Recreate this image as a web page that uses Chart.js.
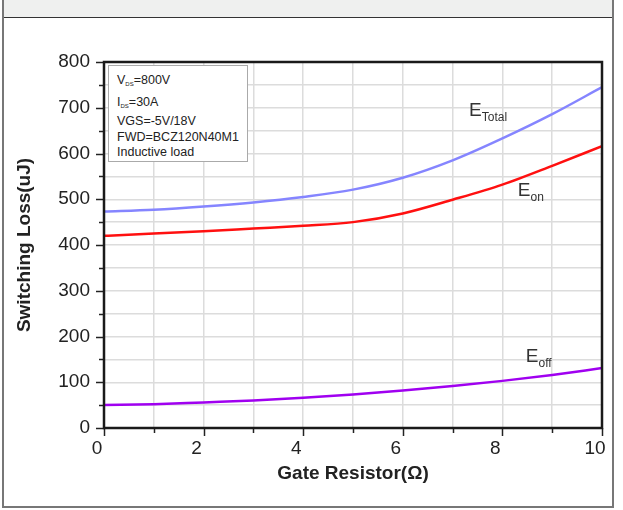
<!doctype html>
<html>
<head>
<meta charset="utf-8" />
<script src="https://cdn.jsdelivr.net/npm/chart.js"></script>
<style>
  html, body { margin: 0; padding: 0; background: #fff; }
  body { width: 623px; height: 510px; position: relative; overflow: hidden; font-family: "Liberation Sans", Arial, sans-serif; }
  .frame { position: absolute; left: 2px; top: 0; width: 608px; height: 506px; border-left: 2px solid #777; border-right: 2px solid #777; border-bottom: 2px solid #777; }
  .band { position: absolute; left: 0; top: 0; width: 100%; height: 17px; background: #eff0ef; border-bottom: 1px solid #333; }
  #wrap { position: absolute; left: 0; top: 0; width: 623px; height: 510px; }
  .note { position: absolute; left: 108px; top: 65px; width: 140px; height: 97px; border: 1px solid #aaa; background: #fff;
          font-size: 12.5px; color: #222; padding: 3px 0 0 8px; box-sizing: border-box; white-space: nowrap; }
  .note div { line-height: 15px; height: 15px; }
  .note .l1, .note .l2 { line-height: 22px; height: 22px; }
  .note .l3 { line-height: 17px; height: 17px; }
  .note sub { font-size: 6px; vertical-align: -2px; line-height: 0; }
</style>
</head>
<body>
<div class="frame"><div class="band"></div></div>
<div id="wrap"><canvas id="chart" width="623" height="510"></canvas></div>
<div class="note">
  <div class="l1">V<sub>DS</sub>=800V</div>
  <div class="l2">I<sub>DS</sub>=30A</div>
  <div class="l3">VGS=-5V/18V</div>
  <div>FWD=BCZ120N40M1</div>
  <div>Inductive load</div>
</div>
<script>
const gateResistor = [0, 1, 2, 3, 4, 5, 6, 7, 8, 9, 10];
const eTotal = [473, 477, 484, 493, 505, 521, 547, 585, 633, 686, 745];
const eOn = [420, 425, 430, 436, 442, 450, 469, 499, 532, 573, 616];
const eOff = [50, 52, 56, 60, 66, 73, 82, 92, 103, 116, 131];
const yMin = 0, yMax = 800, yStep = 50;
const xMin = 0, xMax = 10, xStep = 1;
const curveLabels = [
  { main: 'E', sub: 'Total', x: 7.33, y: 697 },
  { main: 'E', sub: 'on', x: 8.31, y: 522 },
  { main: 'E', sub: 'off', x: 8.47, y: 160 },
];

const font = '"Liberation Sans", Arial, sans-serif';

function line(label, data, color) {
  return {
    label,
    data: gateResistor.map((x, i) => ({ x, y: data[i] })),
    borderColor: color,
    backgroundColor: color,
    borderWidth: 2.5,
    pointRadius: 0,
    cubicInterpolationMode: 'monotone',
    fill: false,
  };
}

const framePlugin = {
  id: 'frame',
  afterDraw(chart) {
    const { ctx, chartArea: a, scales: { x, y } } = chart;
    ctx.save();
    ctx.strokeStyle = '#222';
    ctx.lineWidth = 1.5;
    // ticks on left axis
    for (let v = yMin; v <= yMax; v += yStep) {
      const py = Math.round(y.getPixelForValue(v)) + 0.5;
      const len = v % 100 === 0 ? 8 : 5;
      ctx.beginPath(); ctx.moveTo(a.left - len, py); ctx.lineTo(a.left, py); ctx.stroke();
    }
    // ticks on bottom axis
    for (let v = xMin; v <= xMax; v += xStep) {
      const px = Math.round(x.getPixelForValue(v)) + 0.5;
      const len = v % 2 === 0 ? 8 : 5;
      ctx.beginPath(); ctx.moveTo(px, a.bottom); ctx.lineTo(px, a.bottom + len); ctx.stroke();
    }
    // frame
    ctx.lineWidth = 2.5;
    ctx.strokeStyle = '#1a1a1a';
    ctx.strokeRect(a.left, a.top, a.right - a.left, a.bottom - a.top);
    // curve labels
    ctx.fillStyle = '#333';
    ctx.textBaseline = 'alphabetic';
    for (const l of curveLabels) {
      const px = x.getPixelForValue(l.x);
      const py = y.getPixelForValue(l.y);
      ctx.font = `19px ${font}`;
      ctx.fillText(l.main, px, py + 7);
      const w = ctx.measureText(l.main).width;
      ctx.font = `12px ${font}`;
      ctx.fillText(l.sub, px + w, py + 12);
    }
    ctx.restore();
  },
};

new Chart(document.getElementById('chart'), {
  type: 'line',
  data: { datasets: [line('E_Total', eTotal, '#8585ff'), line('E_on', eOn, '#ff1010'), line('E_off', eOff, '#a000f0')] },
  options: {
    responsive: false,
    animation: false,
    layout: { padding: { left: 9, top: 62, right: 21, bottom: 21 } },
    plugins: { legend: { display: false }, tooltip: { enabled: false } },
    scales: {
      x: {
        type: 'linear', min: xMin, max: xMax,
        ticks: { stepSize: xStep, color: '#222', font: { family: font, size: 19 }, padding: 9, labelOffset: -7,
          callback: (v) => (v % 2 === 0 ? v : ''), maxRotation: 0, autoSkip: false },
        grid: { color: '#dcdcdc', lineWidth: 1.5, drawTicks: false },
        border: { display: false },
        title: { display: true, text: 'Gate Resistor(Ω)', color: '#222', font: { family: font, size: 19, weight: 'bold' }, padding: { top: 3 } },
        afterFit: (s) => { s.height = 61; },
      },
      y: {
        min: yMin, max: yMax,
        ticks: { stepSize: yStep, color: '#222', font: { family: font, size: 19 }, padding: 14,
          callback: (v) => (v % 100 === 0 ? v : ''), autoSkip: false },
        grid: { color: '#dcdcdc', lineWidth: 1.5, drawTicks: false },
        border: { display: false },
        title: { display: true, text: 'Switching Loss(uJ)', color: '#222', font: { family: font, size: 19, weight: 'bold' }, padding: { bottom: 4 } },
        afterFit: (s) => { s.width = 95; },
      },
    },
  },
  plugins: [framePlugin],
});
</script>
</body>
</html>
